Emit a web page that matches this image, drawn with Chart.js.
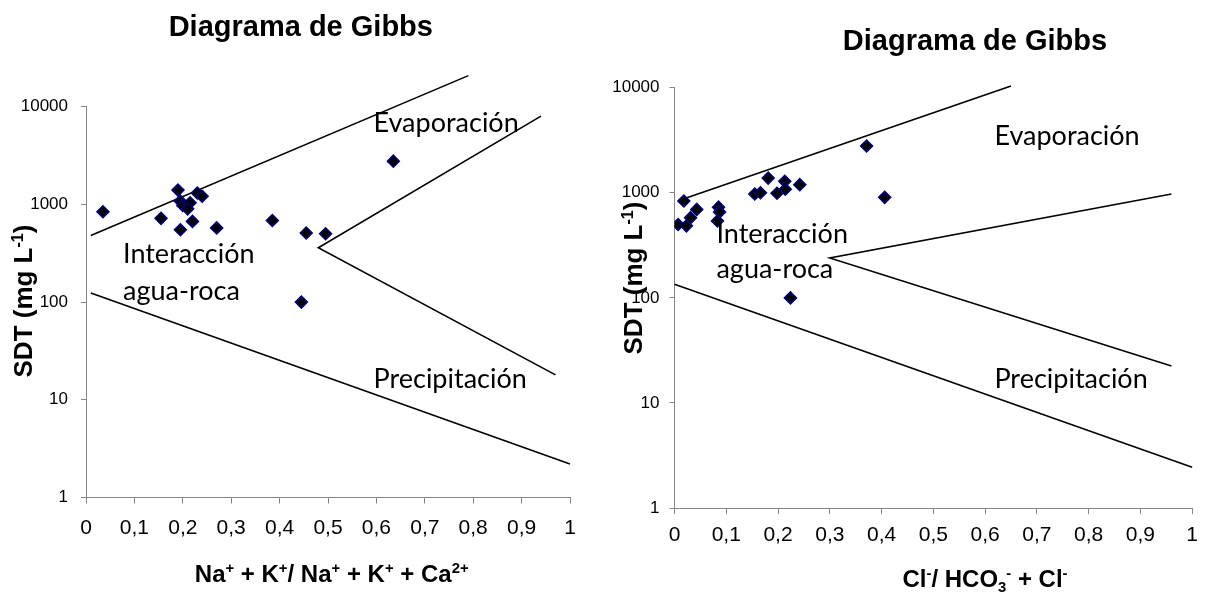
<!DOCTYPE html>
<html lang="es">
<head>
<meta charset="UTF-8">
<title>Diagrama de Gibbs</title>
<script src="https://cdn.jsdelivr.net/npm/chart.js"></script>
<style>
    body { margin: 0; background: #fff; }
    .wrap { position: absolute; top: 0; height: 592px; }
    #left { left: 0; width: 600px; }
    #right { left: 600px; width: 607px; }
</style>
</head>
<body>
<div class="wrap" id="left"><canvas id="chartCat"></canvas></div>
<div class="wrap" id="right"><canvas id="chartAni"></canvas></div>

<script>
// ticks
var yTicks = [1, 10, 100, 1000, 10000];
var xTicks = ['0', '0,1', '0,2', '0,3', '0,4', '0,5', '0,6', '0,7', '0,8', '0,9', '1'];

// muestras - cationes Na+K / (Na+K+Ca)
var catX = [0.035, 0.155, 0.19, 0.195, 0.2, 0.215, 0.21, 0.23, 0.24, 0.195, 0.22, 0.27, 0.385, 0.455, 0.495, 0.445, 0.635];
var catY = [840, 720, 1400, 1080, 975, 1040, 900, 1310, 1210, 550, 670, 575, 685, 510, 500, 100, 2770];

// muestras - aniones Cl / (HCO3+Cl)
var aniX = [0.007, 0.018, 0.023, 0.031, 0.043, 0.085, 0.087, 0.083, 0.155, 0.166, 0.181, 0.198, 0.213, 0.214, 0.242, 0.371, 0.406, 0.224];
var aniY = [500, 835, 485, 580, 695, 730, 655, 540, 975, 1000, 1380, 990, 1285, 1080, 1195, 2790, 905, 100];

// limites de Gibbs (cationes)
var catTopX = [0.01, 0.79], catTopY = [480, 20800];
var catWedgeX = [0.94, 0.48, 0.97], catWedgeY = [8000, 360, 18];
var catLowX = [0.01, 1], catLowY = [124, 2.2];

// limites de Gibbs (aniones)
var aniTopX = [0.01, 0.65], aniTopY = [850, 10400];
var aniWedgeX = [0.96, 0.3, 0.96], aniWedgeY = [975, 240, 22.5];
var aniLowX = [0, 1], aniLowY = [135, 2.45];

var ARIAL = 'Arial, "Liberation Sans", sans-serif';
Chart.defaults.font.family = ARIAL;
Chart.defaults.color = '#000';

function pts(xs, ys) {
    return xs.map(function (v, i) { return { x: v, y: ys[i] }; });
}

// texto con superindices / subindices: [texto, 0 normal | 1 sup | -1 sub]
function drawRich(ctx, parts, x, y, size) {
    var w = 0;
    parts.forEach(function (p) {
        ctx.font = 'bold ' + (p[1] ? size * 0.62 : size) + 'px ' + ARIAL;
        w += ctx.measureText(p[0]).width;
    });
    var cx = x - w / 2;
    ctx.textAlign = 'left';
    ctx.textBaseline = 'alphabetic';
    parts.forEach(function (p) {
        var s = p[1] ? size * 0.62 : size;
        ctx.font = 'bold ' + s + 'px ' + ARIAL;
        var dy = p[1] === 1 ? -size * 0.36 : (p[1] === -1 ? size * 0.2 : 0);
        ctx.fillText(p[0], cx, y + dy);
        cx += ctx.measureText(p[0]).width;
    });
}

var gibbsText = {
    id: 'gibbsText',
    afterDraw: function (chart, args, o) {
        var ctx = chart.ctx;
        var xs = chart.scales.x, ys = chart.scales.y;
        ctx.save();
        ctx.fillStyle = '#000';
        // titulo
        ctx.font = 'bold 29px ' + ARIAL;
        ctx.textAlign = 'center';
        ctx.textBaseline = 'alphabetic';
        ctx.fillText('Diagrama de Gibbs', o.title[0], o.title[1]);
        // titulo eje x
        drawRich(ctx, o.xTitle, o.xPos[0], o.xPos[1], 24);
        // titulo eje y
        ctx.save();
        ctx.translate(o.yPos[0], o.yPos[1]);
        ctx.rotate(-Math.PI / 2);
        drawRich(ctx, [['SDT (mg L', 0], ['-1', 1], [')', 0]], 0, 0, 26);
        ctx.restore();
        // zonas
        ctx.font = '27px Lato';
        ctx.textAlign = 'left';
        ctx.textBaseline = 'alphabetic';
        o.notes.forEach(function (n) {
            ctx.fillText(n[0], xs.getPixelForValue(n[1]), ys.getPixelForValue(n[2]));
        });
        ctx.restore();
    }
};

function lineSet(xs, ys) {
    return {
        data: pts(xs, ys),
        showLine: true,
        borderColor: '#000',
        borderWidth: 1.6,
        pointRadius: 0,
        clip: false
    };
}

function makeChart(id, c) {
    return new Chart(document.getElementById(id), {
        type: 'scatter',
        data: {
            datasets: [
                {
                    data: pts(c.x, c.y),
                    pointStyle: 'rectRot',
                    pointRadius: 6,
                    backgroundColor: '#000',
                    borderColor: '#000080',
                    borderWidth: 1.5
                },
                lineSet(c.topX, c.topY),
                lineSet(c.wedgeX, c.wedgeY),
                lineSet(c.lowX, c.lowY)
            ]
        },
        options: {
            responsive: true,
            maintainAspectRatio: false,
            animation: false,
            devicePixelRatio: 1,
            layout: { padding: { top: c.top, right: c.right, left: 0, bottom: 0 } },
            plugins: {
                legend: { display: false },
                tooltip: { enabled: false },
                gibbsText: { title: c.title, xTitle: c.xTitle, xPos: c.xPos, yPos: c.yPos, notes: c.notes }
            },
            scales: {
                x: {
                    type: 'linear',
                    min: 0,
                    max: 1,
                    afterFit: function (s) { s.height = c.xH; },
                    grid: { drawOnChartArea: false, tickLength: 6, color: '#868686' },
                    border: { color: '#868686' },
                    ticks: {
                        stepSize: 0.1,
                        autoSkip: false,
                        maxRotation: 0,
                        padding: c.xPad,
                        font: { size: 21 },
                        callback: function (v, i) { return xTicks[i]; }
                    }
                },
                y: {
                    type: 'logarithmic',
                    min: 1,
                    max: 10000,
                    afterFit: function (s) { s.width = c.yW; },
                    afterBuildTicks: function (s) {
                        s.ticks = yTicks.map(function (v) { return { value: v }; });
                    },
                    grid: { drawOnChartArea: false, tickLength: 5, color: '#868686' },
                    border: { color: '#868686' },
                    ticks: {
                        padding: c.yPad,
                        font: { size: 17 },
                        callback: function (v) { return String(v); }
                    }
                }
            }
        },
        plugins: [gibbsText]
    });
}

makeChart('chartCat', {
    x: catX, y: catY,
    topX: catTopX, topY: catTopY,
    wedgeX: catWedgeX, wedgeY: catWedgeY,
    lowX: catLowX, lowY: catLowY,
    top: 106.7, right: 30, yW: 86, xH: 94.5, yPad: 13, xPad: 12.2,
    title: [300.8, 36],
    xTitle: [['Na', 0], ['+', 1], [' + K', 0], ['+', 1], ['/ Na', 0], ['+', 1], [' + K', 0], ['+', 1], [' + Ca', 0], ['2+', 1]],
    xPos: [331.7, 582],
    yPos: [32, 301],
    notes: [['Evaporación', 0.594, 5510], ['Interacción', 0.0765, 250], ['agua-roca', 0.0765, 105], ['Precipitación', 0.594, 13.2]]
});

makeChart('chartAni', {
    x: aniX, y: aniY,
    topX: aniTopX, topY: aniTopY,
    wedgeX: aniWedgeX, wedgeY: aniWedgeY,
    lowX: aniLowX, lowY: aniLowY,
    top: 87.7, right: 6, yW: 74.5, xH: 83.9, yPad: 10, xPad: 9,
    title: [375, 50],
    xTitle: [['Cl', 0], ['-', 1], ['/ HCO', 0], ['3', -1], ['-', 1], [' + Cl', 0], ['-', 1]],
    xPos: [385, 587],
    yPos: [42, 278],
    notes: [['Evaporación', 0.618, 2850], ['Interacción', 0.081, 331], ['agua-roca', 0.081, 154], ['Precipitación', 0.618, 13.8]]
});
</script>
</body>
</html>
